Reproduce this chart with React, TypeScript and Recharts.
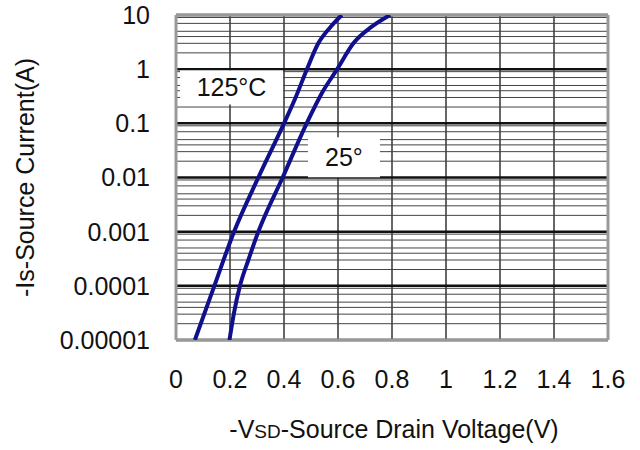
import React from 'react';
import {
  LineChart,
  Line,
  XAxis,
  YAxis,
  CartesianGrid,
  ReferenceLine,
  ReferenceDot,
} from 'recharts';

// axis ticks
const xTicks = [0, 0.2, 0.4, 0.6, 0.8, 1, 1.2, 1.4, 1.6];
const xTickLabels = ['0', '0.2', '0.4', '0.6', '0.8', '1', '1.2', '1.4', '1.6'];
const decades = [1e-5, 1e-4, 1e-3, 1e-2, 1e-1, 1, 10];
const yTickLabels = ['0.00001', '0.0001', '0.001', '0.01', '0.1', '1', '10'];
const minorSteps = [2, 3, 4, 5, 6, 7, 8, 9];

// 125°C curve
const vsd125 = [0.07, 0.142, 0.215, 0.305, 0.4, 0.443, 0.485, 0.527, 0.573, 0.614];
const is125 = [1e-5, 1e-4, 1e-3, 1e-2, 0.1, 0.3, 1, 3, 6.08, 10];

// 25°C curve
const vsd25 = [0.198, 0.215, 0.237, 0.268, 0.305, 0.395, 0.484, 0.54, 0.597, 0.657, 0.725, 0.793];
const is25 = [1e-5, 3.2e-5, 1e-4, 3e-4, 1e-3, 1e-2, 0.1, 0.36, 1, 3, 6.08, 10];

// curve labels (anchor point in data units)
const labels = [
  { text: '125°C', x: 0.2056, y: 0.459, w: 103, h: 34 },
  { text: '25°', x: 0.622, y: 0.0236, w: 72, h: 40 },
];

const FONT = '"Liberation Sans", Arial, sans-serif';
const LINE = '#10108c';

const data125 = vsd125.map((v, i) => ({ v, i: is125[i] }));
const data25 = vsd25.map((v, i) => ({ v, i: is25[i] }));
const minorValues = decades.slice(0, -1).flatMap(d => minorSteps.map(m => d * m));

const yLabel = (v: number) => {
  const k = decades.findIndex(d => Math.abs(Math.log10(d) - Math.log10(v)) < 1e-6);
  return k >= 0 ? yTickLabels[k] : '';
};
const xLabel = (v: number) => {
  const k = xTicks.findIndex(t => Math.abs(t - v) < 1e-6);
  return k >= 0 ? xTickLabels[k] : '';
};

const BoxLabel = (text: string, w: number, h: number) => (props: any) => {
  const vb = props.viewBox || {};
  const cx = vb.x + (vb.width || 0) / 2;
  const cy = vb.y + (vb.height || 0) / 2;
  return (
    <g>
      <rect x={cx - w / 2} y={cy - h / 2} width={w} height={h} fill="#fff" />
      <text x={cx} y={cy + 9} textAnchor="middle" fontSize={25} fontFamily={FONT} fill="#111">
        {text}
      </text>
    </g>
  );
};

const XTitle = (props: any) => {
  const vb = props.viewBox;
  return (
    <text x={vb.x + vb.width / 2 + 2} y={vb.y + 98} textAnchor="middle" fontFamily={FONT} fill="#111" fontSize={25}>
      <tspan>-V</tspan>
      <tspan fontSize={19}>SD</tspan>
      <tspan>-Source Drain Voltage(V)</tspan>
    </text>
  );
};

const YTitle = (props: any) => {
  const vb = props.viewBox;
  const x = vb.x + 34;
  const y = vb.y + vb.height / 2;
  return (
    <text x={x} y={y} transform={`rotate(-90 ${x} ${y})`} textAnchor="middle" fontFamily={FONT} fill="#111" fontSize={25}>
      -Is-Source Current(A)
    </text>
  );
};

export default function App() {
  return (
    <div style={{ position: 'absolute', left: 0, top: 0, width: 640, height: 450, background: '#fff' }}>
      <LineChart width={640} height={450} margin={{ top: 15, right: 32, bottom: 0, left: 0 }}>
        <CartesianGrid horizontal={false} verticalValues={xTicks} stroke="#333" strokeWidth={1.5} />
        <CartesianGrid vertical={false} horizontalValues={minorValues} stroke="#444" strokeWidth={1} />
        <XAxis
          dataKey="v"
          type="number"
          domain={[0, 1.6]}
          ticks={xTicks}
          tickFormatter={xLabel}
          allowDataOverflow
          height={110}
          tickSize={0}
          tickMargin={30}
          axisLine={false}
          tick={{ fontSize: 25, fontFamily: FONT, fill: '#111' }}
          label={<XTitle />}
        />
        <YAxis
          type="number"
          scale="log"
          domain={[1e-5, 10]}
          ticks={decades}
          tickFormatter={yLabel}
          allowDataOverflow
          width={176}
          tickSize={0}
          tickMargin={26}
          axisLine={false}
          tick={{ fontSize: 25, fontFamily: FONT, fill: '#111' }}
          label={<YTitle />}
        />
        {decades.map(d => (
          <ReferenceLine key={d} y={d} stroke="#111" strokeWidth={2.5} />
        ))}
        <ReferenceLine x={0} stroke="#999" strokeWidth={3} />
        <ReferenceLine x={1.6} stroke="#999" strokeWidth={3} />
        <ReferenceLine y={1e-5} stroke="#999" strokeWidth={3} />
        <ReferenceLine y={10} stroke="#999" strokeWidth={3} />
        <Line data={data125} dataKey="i" type="monotone" stroke={LINE} strokeWidth={4} dot={false} isAnimationActive={false} />
        <Line data={data25} dataKey="i" type="monotone" stroke={LINE} strokeWidth={4} dot={false} isAnimationActive={false} />
        {labels.map(l => (
          <ReferenceDot key={l.text} x={l.x} y={l.y} r={0} stroke="none" fill="none" label={BoxLabel(l.text, l.w, l.h)} />
        ))}
      </LineChart>
    </div>
  );
}
